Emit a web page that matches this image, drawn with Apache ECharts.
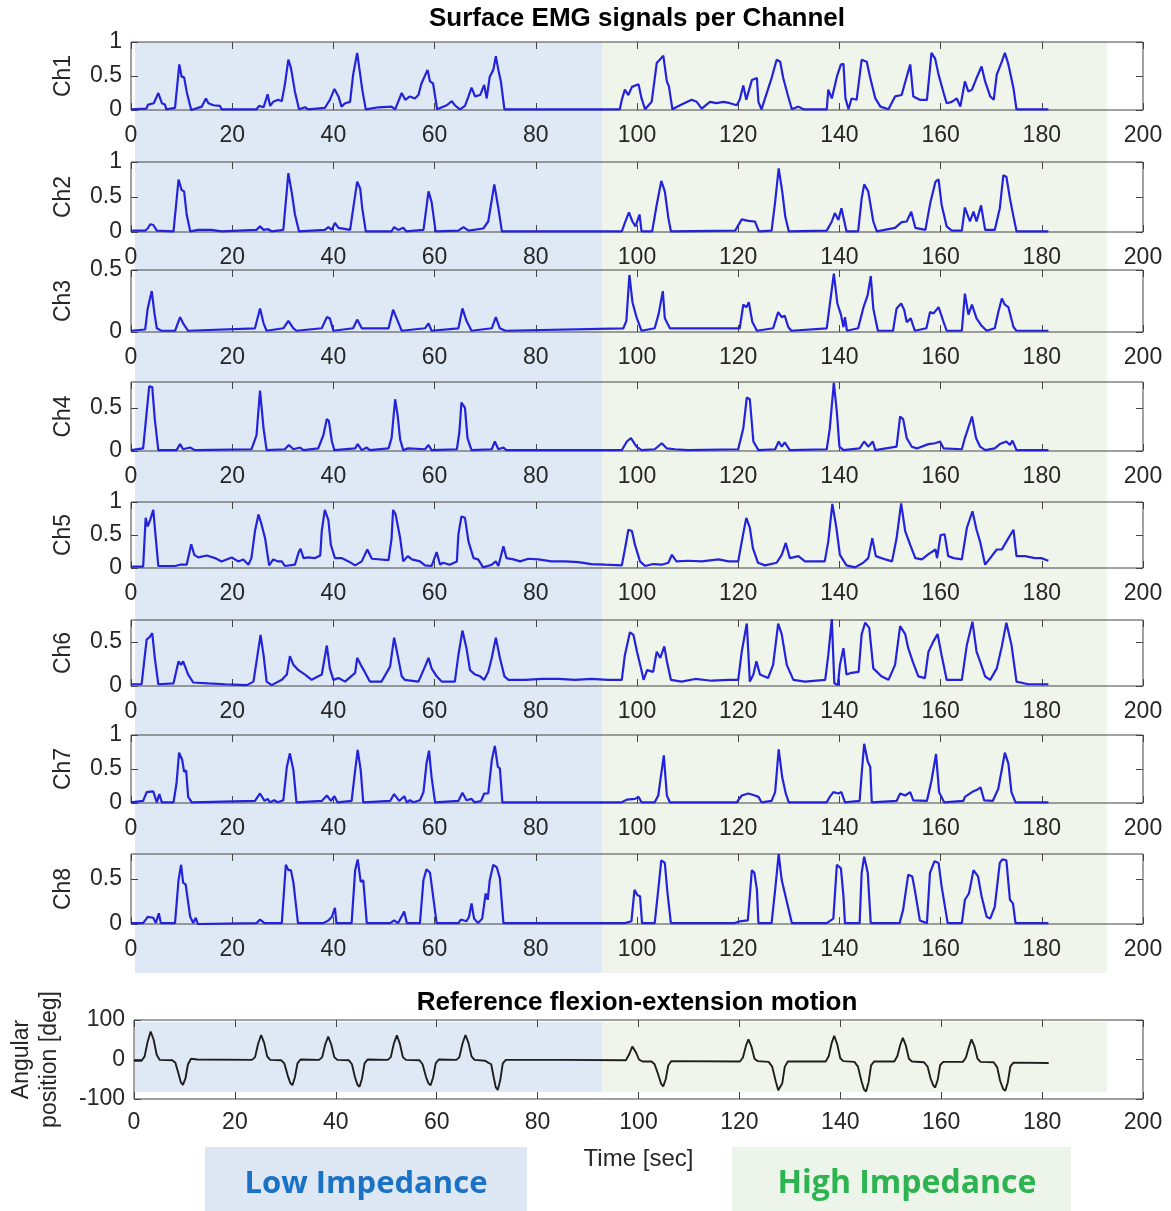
<!DOCTYPE html>
<html><head><meta charset="utf-8">
<script src="https://cdn.jsdelivr.net/npm/echarts@6/dist/echarts.min.js"></script>
<style>html,body{margin:0;padding:0;background:#fff}#c{width:1171px;height:1211px}</style>
</head><body><div id="c"></div>
<script>
// ---------------- DATA ----------------
const channelNames = ['Ch1','Ch2','Ch3','Ch4','Ch5','Ch6','Ch7','Ch8'];
const xTickStep = 20, xMin = 0, xMax = 200;
const yMax = [1, 1, 0.5, 0.8, 1, 0.75, 1, 0.78];
const yTickValues = [[0,0.5,1],[0,0.5,1],[0,0.5],[0,0.5],[0,0.5,1],[0,0.5],[0,0.5,1],[0,0.5]];
const motionTicks = [-100, 0, 100];
const lowBand = [0.8, 93.1];
const highBand = [93.1, 192.9];

const ch1 = [[0,0.01],[3,0.02],[3.4,0.08],[4.5,0.1],[5.4,0.25],[6.1,0.1],[6.7,0.08],[7,0.01],[8.7,0.03],[9.55,0.67],[10,0.49],[10.5,0.48],[11,0.27],[11.9,0],[14,0.05],[14.8,0.17],[15.3,0.1],[16.3,0.07],[17.6,0.06],[17.9,0.01],[24.8,0.01],[25.3,0.06],[26.2,0.04],[27,0.23],[27.5,0.06],[28.1,0.12],[29.1,0.15],[29.8,0.13],[30.4,0.37],[31.1,0.74],[31.6,0.62],[31.9,0.49],[32.4,0.27],[33.2,0.01],[34.4,0.04],[35,0.01],[38.3,0.03],[39.3,0.15],[40.2,0.31],[41,0.2],[41.6,0.05],[42.3,0.1],[43.3,0.12],[43.9,0.52],[44.7,0.84],[45.3,0.52],[45.7,0.3],[46.4,0.01],[48.9,0.04],[51.5,0.05],[52.2,0.01],[53.5,0.25],[54.2,0.15],[55.1,0.2],[56.1,0.17],[56.8,0.22],[57.4,0.39],[58.6,0.59],[59.1,0.42],[59.7,0.39],[60.5,0.01],[62.4,0.07],[63.4,0.13],[64,0.07],[65,0.01],[66,0.06],[66.7,0.2],[67.3,0.33],[68,0.2],[69,0.22],[69.8,0.37],[70.3,0.17],[70.9,0.49],[71.6,0.59],[72.1,0.79],[72.6,0.59],[73.1,0.42],[73.8,0.01],[85,0.01],[96.6,0.01],[97,0.15],[97.6,0.3],[98.3,0.22],[99,0.34],[100.3,0.38],[100.9,0.17],[101.6,0.01],[102.9,0.12],[103.9,0.69],[104.5,0.74],[105.2,0.8],[105.9,0.42],[106.3,0.35],[107,0.01],[108.5,0.07],[110.8,0.15],[111.8,0.12],[112.8,0.02],[114.4,0.12],[115.7,0.1],[117.1,0.12],[118.4,0.1],[119.7,0.07],[120.3,0.15],[121,0.36],[121.6,0.15],[122.7,0.44],[123.7,0.47],[124,0.12],[124.6,0.01],[126.6,0.47],[127.6,0.74],[128.3,0.71],[128.9,0.47],[129.8,0.22],[130.6,0.01],[131.9,0.05],[132.9,0.01],[137.5,0.01],[137.8,0.3],[138.5,0.17],[139.5,0.49],[140.3,0.67],[140.8,0.68],[141.2,0.17],[141.8,0.01],[142.4,0.17],[143.4,0.15],[144.4,0.74],[145.4,0.71],[146.1,0.47],[147.1,0.17],[148.1,0.05],[149.7,0.01],[151,0.2],[152.3,0.22],[153.3,0.49],[154,0.67],[154.6,0.2],[155.9,0.15],[157.3,0.15],[158.2,0.84],[158.9,0.76],[159.6,0.52],[160.6,0.25],[161.2,0.1],[162.2,0.12],[163.2,0.17],[163.9,0.05],[164.8,0.42],[165.5,0.27],[166.2,0.3],[167.1,0.47],[168.1,0.64],[168.8,0.42],[169.8,0.2],[170.5,0.15],[171.1,0.52],[172.1,0.71],[172.7,0.84],[173.4,0.67],[174.4,0.32],[175,0.01],[181.3,0.01]];

const ch2 = [[0,0.02],[2.8,0.02],[3.3,0.05],[3.8,0.11],[4.4,0.1],[5.1,0.02],[8.4,0.01],[9.4,0.75],[10,0.6],[10.5,0.58],[11,0.25],[11.7,0.01],[13.3,0.03],[15.9,0.03],[17.9,0.01],[24.8,0.03],[25.5,0.08],[26.2,0.03],[27.1,0.04],[27.8,0.01],[30.1,0.03],[31.1,0.84],[31.8,0.55],[32.4,0.25],[33.2,0.01],[38.3,0.03],[39,0.07],[39.7,0.03],[40.3,0.13],[41,0.06],[43.3,0.03],[44.1,0.43],[44.7,0.72],[45.3,0.62],[45.7,0.34],[46.4,0.01],[51.5,0.01],[52,0.07],[52.8,0.03],[53.8,0.06],[54.4,0.01],[57.8,0.03],[58.8,0.58],[59.4,0.43],[60.2,0.01],[64.7,0.02],[65.7,0.07],[66.7,0.02],[69.6,0.05],[70.6,0.15],[71.8,0.68],[72.6,0.34],[73.3,0.01],[85,0.01],[97,0.01],[97.6,0.13],[98.4,0.28],[99.1,0.15],[99.7,0.08],[100.5,0.25],[100.9,0.01],[103,0.01],[103.9,0.39],[104.8,0.73],[105.5,0.58],[106.2,0.2],[106.7,0.01],[119.4,0.02],[120.7,0.18],[122,0.16],[123.3,0.15],[124.1,0.01],[126.6,0.02],[127.3,0.43],[128,0.91],[128.7,0.58],[129.3,0.22],[130,0.01],[137.5,0.02],[138.5,0.15],[139.1,0.27],[139.8,0.17],[140.4,0.34],[141.4,0.01],[143.7,0.01],[144.4,0.48],[144.9,0.68],[145.7,0.58],[146.7,0.15],[147.4,0.01],[151,0.06],[152.3,0.14],[153.3,0.15],[154.2,0.29],[155,0.06],[157,0.03],[158,0.43],[159,0.72],[159.6,0.75],[160.2,0.39],[161.2,0.08],[162.2,0.02],[164.2,0.02],[164.8,0.35],[165.8,0.15],[166.5,0.29],[167.1,0.15],[168,0.38],[168.8,0.03],[170.7,0.03],[171.7,0.34],[172.4,0.81],[173,0.79],[173.7,0.48],[174.4,0.22],[175,0.01],[181.3,0.01]];

const ch3 = [[0,0.01],[2.8,0.02],[3.3,0.19],[4.1,0.33],[4.6,0.16],[5.1,0.03],[6,0.01],[8.7,0.01],[9.7,0.12],[10.3,0.07],[11.3,0.01],[24.5,0.03],[25.5,0.19],[26.2,0.07],[26.8,0.01],[30.1,0.03],[31.1,0.09],[32.1,0.03],[32.7,0.01],[37.7,0.03],[38.7,0.12],[39.3,0.11],[40,0.01],[43.9,0.03],[44.7,0.1],[45.6,0.03],[50.9,0.03],[51.8,0.18],[52.8,0.08],[53.5,0.01],[58.1,0.03],[58.8,0.07],[59.4,0.01],[64.7,0.03],[65.5,0.19],[66.3,0.09],[67.3,0.01],[71.3,0.03],[72.1,0.12],[72.9,0.03],[74,0.01],[97.3,0.03],[97.9,0.09],[98.5,0.46],[99.1,0.24],[99.9,0.12],[100.9,0.01],[103.5,0.03],[104.3,0.15],[105.1,0.33],[105.5,0.11],[106.5,0.03],[120.3,0.03],[121,0.22],[121.6,0.2],[122.1,0.24],[122.8,0.08],[123.7,0.01],[126.9,0.03],[127.9,0.16],[128.6,0.12],[129.2,0.13],[129.9,0.04],[130.5,0.01],[137.5,0.03],[138.1,0.22],[138.9,0.47],[139.6,0.23],[140.3,0.14],[140.8,0.04],[141.1,0.12],[141.5,0.01],[143.7,0.03],[144.7,0.19],[145.6,0.3],[146.2,0.45],[146.7,0.19],[147.6,0.01],[150.6,0.01],[151.3,0.19],[152.2,0.23],[152.8,0.18],[153.3,0.08],[154.1,0.11],[154.9,0.01],[157.2,0.03],[157.9,0.16],[158.6,0.15],[159.6,0.2],[160.6,0.08],[161.2,0.01],[164.2,0.01],[164.8,0.31],[165.5,0.14],[166.2,0.22],[167.1,0.11],[168.1,0.05],[169.1,0.01],[170.7,0.03],[171.4,0.16],[172.1,0.27],[172.7,0.22],[173.4,0.2],[174.4,0.04],[175,0.01],[181.3,0.01]];

const ch4 = [[0,0.01],[2.4,0.03],[3.1,0.45],[3.6,0.75],[4.2,0.74],[4.7,0.37],[5.4,0.01],[9,0.01],[9.7,0.08],[10.3,0.02],[11.7,0.04],[12.6,0.01],[23.8,0.02],[24.8,0.18],[25.5,0.7],[26.2,0.26],[26.8,0.01],[30.4,0.02],[31.2,0.07],[32.1,0.02],[33.4,0.04],[34.1,0.01],[37,0.03],[38,0.18],[38.7,0.37],[39.1,0.35],[39.7,0.11],[40.2,0.01],[44.3,0.03],[44.8,0.08],[45.6,0.01],[46.6,0.04],[47.2,0.01],[50.9,0.03],[51.5,0.15],[52.2,0.6],[52.7,0.41],[53.2,0.13],[53.8,0.01],[54.8,0.03],[58.1,0.02],[58.8,0.07],[59.4,0.01],[64.4,0.02],[64.9,0.22],[65.3,0.56],[66,0.5],[66.5,0.15],[67.3,0.01],[71.3,0.02],[71.9,0.11],[72.6,0.02],[73.6,0.04],[74.2,0.01],[97,0.01],[98,0.11],[98.8,0.15],[99.9,0.05],[100.9,0.01],[103.5,0.02],[104.9,0.09],[105.9,0.03],[107.5,0.02],[110,0.01],[120,0.02],[121,0.26],[121.7,0.62],[122.3,0.6],[123,0.11],[124,0.01],[127.3,0.02],[128,0.11],[128.6,0.05],[129.2,0.1],[130.2,0.01],[137.5,0.02],[138.1,0.26],[138.9,0.79],[139.5,0.45],[140,0.05],[140.8,0.01],[144,0.03],[144.9,0.11],[145.7,0.05],[146.6,0.11],[147.1,0.01],[151.3,0.05],[152,0.4],[152.6,0.37],[153.3,0.15],[154.3,0.05],[155.3,0.03],[157.6,0.08],[158.9,0.09],[159.9,0.11],[160.6,0.03],[164.2,0.02],[164.8,0.15],[166.2,0.4],[167,0.15],[167.8,0.05],[168.8,0.01],[170.7,0.03],[171.7,0.08],[173,0.11],[173.7,0.07],[174.2,0.12],[175,0.01],[181.3,0.01]];

const ch5 = [[0,0.02],[2.4,0.02],[2.9,0.76],[3.3,0.63],[3.8,0.73],[4.4,0.88],[4.9,0.45],[5.4,0.03],[8.7,0.03],[9.7,0.05],[11,0.05],[11.9,0.36],[12.5,0.2],[13.3,0.16],[15,0.19],[16.6,0.15],[17.9,0.1],[19.9,0.16],[21.2,0.1],[22.2,0.13],[23.2,0.05],[23.8,0.15],[24.5,0.56],[25.2,0.81],[25.8,0.66],[26.5,0.45],[27.3,0.04],[28.1,0.13],[29.1,0.1],[29.8,0.1],[30.4,0.03],[32.4,0.05],[33.1,0.23],[33.5,0.29],[34.1,0.15],[35,0.16],[36.4,0.15],[37.4,0.19],[37.7,0.56],[38.3,0.88],[39,0.73],[39.5,0.35],[40.3,0.15],[41.6,0.15],[43,0.1],[44.3,0.04],[45.6,0.1],[46.7,0.28],[47.6,0.14],[50.9,0.12],[51.5,0.45],[51.8,0.88],[52.3,0.81],[53.2,0.45],[53.8,0.1],[54.7,0.18],[55.5,0.13],[57.1,0.1],[58.1,0.04],[59.4,0.03],[60.4,0.24],[61.1,0.05],[61.7,0.08],[63,0.05],[64.4,0.1],[64.7,0.51],[65.3,0.78],[66,0.76],[66.7,0.4],[67.7,0.15],[68.6,0.13],[69.6,0.01],[71.3,0.05],[72.1,0.1],[72.6,0.03],[73.6,0.33],[74.2,0.15],[75.6,0.13],[76.9,0.1],[78.5,0.14],[80.5,0.13],[83.1,0.1],[85.8,0.1],[88.4,0.09],[91,0.06],[93.7,0.05],[97,0.04],[97.6,0.28],[98.3,0.58],[99,0.56],[99.6,0.35],[100.6,0.1],[101.6,0.03],[103.2,0.06],[104.9,0.05],[106.2,0.08],[106.9,0.2],[107.8,0.1],[110.1,0.11],[112.8,0.1],[116.1,0.13],[118.1,0.1],[120,0.1],[120.7,0.4],[121.6,0.76],[122.3,0.61],[122.9,0.3],[123.9,0.08],[125.3,0.04],[127.6,0.08],[128.6,0.2],[129.4,0.38],[130.2,0.15],[131.9,0.18],[133.2,0.1],[137.1,0.1],[137.8,0.4],[138.6,0.97],[139.4,0.61],[140.1,0.2],[141.4,0.04],[143.1,0.01],[144.7,0.08],[145.7,0.15],[146.5,0.45],[147.2,0.18],[149.1,0.13],[150.4,0.1],[151.3,0.45],[152.2,0.98],[153,0.56],[154,0.35],[155,0.15],[156.3,0.13],[157.6,0.21],[159,0.28],[159.3,0.15],[160,0.5],[160.8,0.51],[161.5,0.18],[162.6,0.15],[164.2,0.13],[165.2,0.61],[166.3,0.86],[167.1,0.58],[167.8,0.4],[168.8,0.05],[169.8,0.15],[171.1,0.28],[172.1,0.28],[173,0.4],[174.4,0.58],[175,0.18],[176.7,0.18],[178.6,0.15],[179.9,0.15],[181.3,0.11]];

const ch6 = [[0,0.02],[2.1,0.02],[3.1,0.53],[3.6,0.55],[4.2,0.6],[4.7,0.32],[5.4,0.02],[8.4,0.03],[9.4,0.28],[9.9,0.24],[10.3,0.28],[11.3,0.13],[12.3,0.04],[15.3,0.03],[18.6,0.02],[22.9,0.01],[24.2,0.05],[25,0.35],[25.6,0.58],[26.2,0.35],[26.8,0.05],[27.8,0.01],[29.8,0.07],[30.8,0.13],[31.4,0.34],[32.1,0.24],[33.1,0.18],[34.4,0.13],[35.7,0.07],[37.7,0.13],[38.7,0.46],[39.3,0.2],[40,0.07],[41,0.09],[42.3,0.05],[44.3,0.15],[44.7,0.32],[45.6,0.22],[46.2,0.16],[47.2,0.05],[49.5,0.05],[51.2,0.22],[52,0.55],[52.8,0.32],[53.5,0.11],[54.1,0.07],[56.8,0.05],[58.1,0.22],[58.8,0.32],[59.4,0.2],[60.4,0.11],[61.4,0.05],[64,0.05],[64.7,0.35],[65.5,0.63],[66.3,0.43],[67,0.18],[68,0.13],[69,0.11],[69.8,0.07],[70.6,0.16],[71.3,0.32],[72.1,0.55],[72.9,0.32],[73.8,0.11],[74.6,0.07],[77.9,0.07],[81.2,0.08],[84.5,0.08],[87.7,0.07],[91,0.08],[94.3,0.07],[97,0.07],[97.6,0.35],[98.6,0.61],[99.3,0.58],[100,0.39],[100.8,0.2],[101.3,0.07],[102,0.18],[103.2,0.16],[103.9,0.39],[104.6,0.32],[105.4,0.45],[105.9,0.28],[106.7,0.07],[108.8,0.05],[111.5,0.08],[114.8,0.06],[118.1,0.07],[120,0.07],[120.7,0.39],[121.7,0.71],[122.3,0.05],[123,0.13],[123.6,0.28],[124.3,0.13],[125.9,0.09],[126.9,0.24],[127.9,0.71],[128.6,0.59],[129.6,0.24],[130.9,0.07],[133.2,0.05],[137.2,0.07],[137.8,0.35],[138.5,0.76],[139,0.03],[139.7,0.01],[140.1,0.24],[140.8,0.43],[141.4,0.13],[142.4,0.15],[143.8,0.16],[144.4,0.59],[145.1,0.72],[145.9,0.66],[146.7,0.2],[148.3,0.11],[149.7,0.07],[151,0.24],[152,0.68],[153,0.59],[153.6,0.43],[154.6,0.26],[155.6,0.11],[156.9,0.09],[157.6,0.39],[158.6,0.51],[159.4,0.59],[160.2,0.35],[161.2,0.07],[164.2,0.07],[165.2,0.47],[166.3,0.73],[167.1,0.39],[167.8,0.28],[168.8,0.11],[169.8,0.07],[171.1,0.2],[172.1,0.45],[173,0.72],[174,0.47],[175,0.05],[177.3,0.02],[181.3,0.02]];

const ch7 = [[0,0.01],[2.4,0.03],[3.1,0.16],[4.4,0.17],[5.1,0.01],[5.6,0.13],[6.1,0.01],[8.4,0.01],[9,0.29],[9.5,0.74],[10.1,0.64],[10.5,0.46],[10.9,0.48],[11.3,0.09],[12,0.01],[24.5,0.03],[25.5,0.14],[26.4,0.03],[27,0.06],[27.5,0.01],[28.3,0.04],[29,0.01],[30.1,0.04],[30.8,0.53],[31.4,0.73],[32.1,0.48],[32.7,0.01],[37.7,0.03],[38.7,0.11],[39.5,0.03],[40.2,0.1],[40.8,0.01],[43.6,0.03],[44.3,0.48],[44.8,0.78],[45.4,0.48],[45.9,0.01],[51.2,0.03],[52,0.13],[53,0.03],[54,0.1],[54.5,0.01],[55.1,0.04],[55.8,0.01],[57.1,0.04],[57.8,0.16],[58.4,0.58],[58.9,0.77],[59.4,0.38],[60.1,0.01],[64.7,0.03],[65.5,0.15],[66.3,0.04],[67.3,0.06],[67.9,0.01],[69.2,0.03],[69.8,0.14],[70.6,0.14],[71.3,0.63],[71.9,0.84],[72.5,0.53],[72.9,0.51],[73.4,0.01],[97,0.01],[98,0.05],[99.6,0.06],[100.3,0.09],[100.9,0.01],[103.5,0.01],[104.2,0.11],[105.3,0.7],[105.9,0.11],[106.5,0.01],[119.7,0.01],[120.7,0.11],[122,0.14],[123.3,0.11],[124,0.09],[124.6,0.01],[126.6,0.03],[127.3,0.16],[128,0.79],[128.7,0.38],[129.4,0.14],[130,0.01],[137.5,0.01],[138.1,0.09],[138.8,0.16],[139.8,0.14],[140.4,0.16],[141.1,0.01],[144,0.03],[144.4,0.43],[144.9,0.87],[145.6,0.61],[146.1,0.53],[146.4,0.01],[151.3,0.03],[152,0.14],[153,0.11],[154,0.16],[154.6,0.04],[157.3,0.03],[158.2,0.33],[159.1,0.72],[159.7,0.16],[160.7,0.01],[164.5,0.03],[164.8,0.09],[166.2,0.16],[167.1,0.19],[167.9,0.23],[168.6,0.04],[170.3,0.03],[171.4,0.21],[172.7,0.74],[173.4,0.58],[174,0.16],[174.8,0.01],[181.3,0.01]];

const ch8 = [[0,0.01],[2.4,0.01],[3.3,0.08],[4.4,0.07],[4.9,0.01],[5.5,0.12],[5.9,0.01],[8.7,0.01],[9.4,0.49],[9.9,0.66],[10.3,0.46],[10.8,0.44],[11.7,0.08],[12.3,0.01],[12.8,0.07],[13.2,0],[24.8,0.01],[25.5,0.05],[26.4,0.01],[29.8,0.01],[30.6,0.66],[31.1,0.6],[31.6,0.6],[32.1,0.46],[33,0.01],[38,0.01],[39,0.04],[39.7,0.08],[40.3,0.18],[40.6,0.01],[43.6,0.01],[44.3,0.6],[44.8,0.72],[45.4,0.47],[45.9,0.49],[46.6,0.01],[51.2,0.01],[52,0.04],[52.8,0.01],[54,0.14],[54.5,0.01],[57.1,0.01],[57.8,0.49],[58.4,0.61],[59.1,0.57],[59.7,0.31],[60.4,0.01],[64.7,0.01],[65.2,0.05],[66.3,0.03],[66.8,0.08],[67.3,0.23],[67.8,0.06],[68.6,0.01],[69.4,0.06],[70.1,0.34],[70.5,0.27],[70.9,0.49],[71.6,0.66],[72.3,0.63],[72.9,0.51],[73.6,0.01],[97.6,0.01],[98.9,0.03],[99.5,0.38],[100.1,0.32],[100.6,0.31],[101,0.01],[103.5,0.01],[104.2,0.38],[104.8,0.71],[105.5,0.68],[106,0.36],[106.7,0.01],[119.3,0.01],[120.3,0.03],[121.9,0.04],[122.7,0.6],[123.2,0.57],[123.7,0.38],[124,0.01],[126.6,0.01],[127.3,0.38],[128,0.78],[128.6,0.49],[129.6,0.25],[129.9,0.27],[130.6,0.01],[137.5,0.01],[138.8,0.06],[139.5,0.66],[140.3,0.62],[140.8,0.31],[141.1,0.01],[144,0.01],[144.4,0.57],[144.9,0.75],[145.6,0.57],[146.2,0.01],[151.9,0.01],[152.6,0.16],[153.6,0.55],[154.4,0.53],[154.9,0.38],[155.9,0.04],[157.3,0.01],[157.9,0.57],[158.8,0.7],[159.6,0.68],[160.2,0.42],[161.4,0.01],[164.2,0.01],[164.8,0.27],[165.6,0.34],[166.5,0.6],[167.4,0.53],[168.1,0.31],[169.1,0.08],[169.8,0.06],[170.7,0.19],[171.7,0.68],[172.2,0.72],[173,0.71],[173.7,0.27],[174.3,0.23],[174.8,0.01],[181.3,0.01]];

const motion = [[0,-3],[1.5,-3],[2.1,8],[2.7,45],[3.3,71],[3.9,50],[4.5,12],[5.1,-1],[7.6,-2],[8.2,-8],[8.8,-35],[9.3,-58],[9.7,-64],[10.2,-48],[10.7,-12],[11.3,2],[12.5,0],[23.4,-1],[24,6],[24.6,40],[25.2,62],[25.8,42],[26.4,8],[27,-1],[29.2,-2],[29.8,-10],[30.5,-42],[31,-60],[31.4,-65],[31.9,-45],[32.4,-10],[33,0],[36.7,-1],[37.3,6],[37.9,38],[38.5,58],[39.1,38],[39.7,6],[40.3,-1],[42.6,-2],[43.2,-12],[43.8,-45],[44.3,-64],[44.7,-69],[45.2,-48],[45.7,-10],[46.3,0],[50.3,-1],[50.9,6],[51.5,40],[52.1,61],[52.7,40],[53.3,6],[53.9,-1],[56.6,-2],[57.2,-12],[57.9,-45],[58.4,-61],[58.8,-65],[59.3,-45],[59.8,-10],[60.4,0],[63.9,-1],[64.5,6],[65.1,40],[65.7,62],[66.3,42],[66.9,8],[67.5,-1],[69.6,-3],[70.2,-8],[70.8,-12],[71.3,-45],[71.7,-70],[72.1,-77],[72.6,-52],[73.1,-10],[73.7,-1],[85,-1],[97.5,-2],[98.1,12],[98.8,33],[99.5,18],[100.1,0],[100.8,-5],[102.6,-5],[103.2,-12],[103.9,-38],[104.5,-62],[104.9,-68],[105.4,-50],[105.9,-15],[106.5,-4],[120.1,-5],[120.7,5],[121.3,35],[121.8,51],[122.4,32],[123,2],[123.6,-4],[125.8,-6],[126.5,-18],[127.2,-55],[127.7,-78],[128,-83],[128.5,-60],[129,-18],[129.6,-5],[137.1,-5],[137.7,8],[138.3,42],[138.8,60],[139.4,38],[140,3],[140.6,-4],[142.8,-6],[143.5,-18],[144.2,-55],[144.7,-76],[145.1,-81],[145.6,-58],[146.1,-15],[146.7,-5],[150.7,-5],[151.3,8],[151.9,38],[152.4,55],[153,35],[153.6,2],[154.2,-5],[156.6,-7],[157.3,-18],[157.9,-48],[158.4,-65],[158.8,-71],[159.3,-52],[159.8,-14],[160.4,-6],[164.3,-6],[164.9,5],[165.5,32],[166,51],[166.6,33],[167.2,2],[167.8,-6],[170.4,-7],[171.1,-20],[171.7,-55],[172.3,-75],[172.7,-79],[173.2,-58],[173.7,-18],[174.3,-8],[181.3,-9]];

const channels = [ch1, ch2, ch3, ch4, ch5, ch6, ch7, ch8];

// ---------------- LAYOUT / STYLE ----------------
const L = 131, R = 28;
const panelTop = [42, 162, 270, 382, 502, 620, 735, 854];
const panelH = [68, 70, 62, 69, 66, 66, 68, 70];
const motionTop = 1020, motionH = 79;
const FONT = 'Liberation Sans, Arial, sans-serif';
const TXT = '#262626';
const FRAME = '#444';
const LINE = '#2323dc';
const BLUE_BG = '#dfe9f5';
const GREEN_BG = '#eff5ea';

const grids = [], xAxes = [], yAxes = [], series = [];

function addBackground(top, height) {
  const gi = grids.length;
  grids.push({left: L, right: R, top: top, height: height, show: false});
  const xi = xAxes.length, yi = yAxes.length;
  xAxes.push({gridIndex: gi, type: 'value', min: xMin, max: xMax, show: false});
  yAxes.push({gridIndex: gi, type: 'value', min: 0, max: 1, show: false});
  series.push({
    type: 'line', xAxisIndex: xi, yAxisIndex: yi, data: [], silent: true, z: -10,
    markArea: {silent: true, z: -10, itemStyle: {opacity: 1},
      data: [
        [{xAxis: lowBand[0], itemStyle: {color: BLUE_BG}}, {xAxis: lowBand[1]}],
        [{xAxis: highBand[0], itemStyle: {color: GREEN_BG}}, {xAxis: highBand[1]}]
      ]}
  });
}
addBackground(panelTop[0], 973 - panelTop[0]);
addBackground(1022, 70);

function addPanel(top, height, data, ymin, ymax, yTicks, yName, opts) {
  opts = opts || {};
  const gi = grids.length;
  grids.push({left: L, right: R, top: top, height: height, show: true,
    borderColor: FRAME, borderWidth: 1, backgroundColor: 'transparent'});
  const tick = {inside: true, length: 7, lineStyle: {color: FRAME}};
  const noLine = {show: false, onZero: false};
  const xi = xAxes.length;
  xAxes.push({gridIndex: gi, type: 'value', min: xMin, max: xMax, interval: xTickStep, position: 'bottom',
    axisLine: noLine, splitLine: {show: false}, axisTick: tick,
    axisLabel: {color: TXT, fontSize: 23, fontFamily: FONT, margin: opts.xMargin || 14},
    name: opts.xName || '', nameLocation: 'middle', nameGap: opts.xNameGap || 50,
    nameTextStyle: {color: TXT, fontSize: 24, fontFamily: FONT}});
  xAxes.push({gridIndex: gi, type: 'value', min: xMin, max: xMax, interval: xTickStep, position: 'top',
    axisLine: noLine, splitLine: {show: false}, axisLabel: {show: false}, axisTick: tick});
  const yi = yAxes.length;
  yAxes.push({gridIndex: gi, type: 'value', min: ymin, max: ymax, position: 'left',
    axisLine: noLine, splitLine: {show: false},
    axisTick: Object.assign({customValues: yTicks}, tick),
    axisLabel: {color: TXT, fontSize: 23, fontFamily: FONT, margin: 9, customValues: yTicks},
    name: yName, nameLocation: 'middle', nameGap: opts.yNameGap || 54, nameRotate: 90,
    nameTextStyle: {color: TXT, fontSize: 23, fontFamily: FONT, lineHeight: opts.nameLH || 26}});
  yAxes.push({gridIndex: gi, type: 'value', min: ymin, max: ymax, position: 'right',
    axisLine: noLine, splitLine: {show: false}, axisLabel: {show: false},
    axisTick: Object.assign({customValues: yTicks}, tick)});
  series.push({type: 'line', xAxisIndex: xi, yAxisIndex: yi, data: data, showSymbol: false,
    symbol: 'none', z: 3, clip: true,
    lineStyle: {color: opts.color || LINE, width: opts.width || 2.2}});
}

channels.forEach((d, i) => addPanel(panelTop[i], panelH[i], d, 0, yMax[i], yTickValues[i], channelNames[i]));
addPanel(motionTop, motionH, motion, motionTicks[0], motionTicks[2], motionTicks, 'Angular\nposition [deg]',
  {xName: 'Time [sec]', xNameGap: 48, xMargin: 12, yNameGap: 70, color: '#1e1e1e', width: 1.9, nameLH: 28});

const option = {
  animation: false,
  backgroundColor: '#ffffff',
  grid: grids, xAxis: xAxes, yAxis: yAxes, series: series,
  graphic: [
    {type: 'text', x: 637, y: 19, style: {text: 'Surface EMG signals per Channel', fill: '#000',
      font: 'bold 26px ' + FONT, textAlign: 'center', textVerticalAlign: 'middle'}},
    {type: 'text', x: 637, y: 1003, style: {text: 'Reference flexion-extension motion', fill: '#000',
      font: 'bold 26px ' + FONT, textAlign: 'center', textVerticalAlign: 'middle'}},
    {type: 'rect', shape: {x: 205, y: 1147, width: 322, height: 70}, style: {fill: '#dde8f4'}},
    {type: 'text', x: 366, y: 1184, style: {text: 'Low Impedance', fill: '#1a72c6',
      font: 'bold 31px Open Sans, sans-serif', textAlign: 'center', textVerticalAlign: 'middle'}},
    {type: 'rect', shape: {x: 732, y: 1147, width: 339, height: 70}, style: {fill: '#edf4e9'}},
    {type: 'text', x: 907, y: 1184, style: {text: 'High Impedance', fill: '#2bb44f',
      font: 'bold 32px Open Sans, sans-serif', textAlign: 'center', textVerticalAlign: 'middle'}}
  ]
};
const chart = echarts.init(document.getElementById('c'), null, {renderer: 'canvas'});
chart.setOption(option);
</script>
</body></html>
